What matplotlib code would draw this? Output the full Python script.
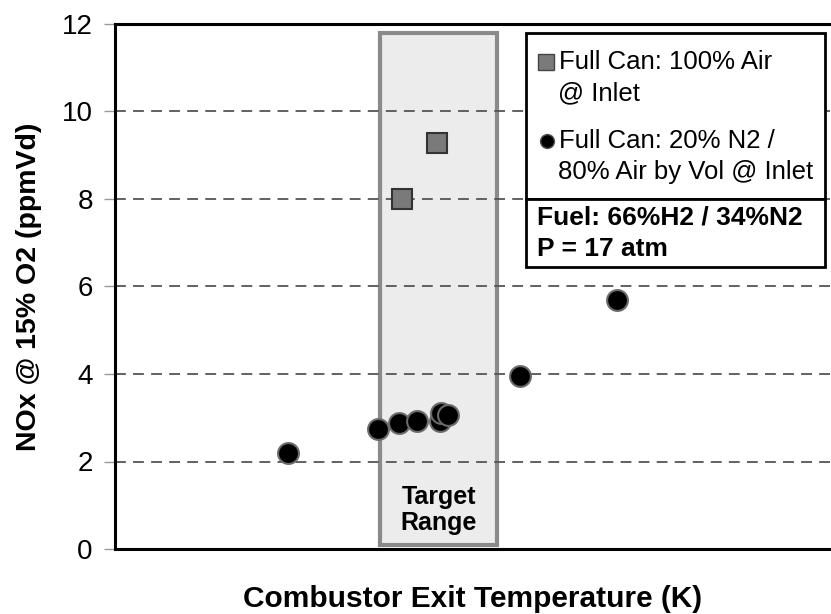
import matplotlib
matplotlib.use("Agg")
import matplotlib.pyplot as plt
from matplotlib.patches import Rectangle

plt.rcParams['font.family'] = ['Liberation Sans', 'DejaVu Sans']

# Relative combustor exit temperature (unlabelled axis) and NOx readings
air_x = [40.1, 45.0]
air_nox = [8.0, 9.28]
n2_x = [24.2, 36.7, 39.7, 42.2, 45.4, 45.5, 46.5, 56.6, 70.1]
n2_nox = [2.2, 2.75, 2.87, 2.93, 2.92, 3.12, 3.07, 3.95, 5.7]
target_lo, target_hi = 37.0, 53.4
y_ticks = [0, 2, 4, 6, 8, 10, 12]

W, H = 831, 614
fig = plt.figure(figsize=(W / 100, H / 100), dpi=100)
ax_l, ax_r, ax_t, ax_b = 115, 831, 24, 549
ax = fig.add_axes([ax_l / W, 1 - ax_b / H, (ax_r - ax_l) / W, (ax_b - ax_t) / H])
ax.set_xlim(0, 100)
ax.set_ylim(0, 12)


def px(x, y):
    """pixel position -> axes fraction"""
    return (x - ax_l) / (ax_r - ax_l), (ax_b - y) / (ax_b - ax_t)


# dashed grid
for v in y_ticks[1:-1]:
    ax.axhline(v, color='#555555', lw=1.3, ls=(0, (6, 4)), zorder=2)

# target range band
ax.add_patch(Rectangle((target_lo, 0.1), target_hi - target_lo, 11.7,
                       facecolor='#ececec', edgecolor='#8a8a8a', lw=3, zorder=1))
ax.text((target_lo + target_hi) / 2, 0.9, 'Target\nRange', ha='center', va='center',
        fontsize=18, fontweight='bold', linespacing=1.1, zorder=3)

ax.plot(air_x, air_nox, ls='none', marker='s', ms=14, mfc='#7a7a7a', mec='#333333',
        mew=1.5, zorder=4)
ax.plot(n2_x, n2_nox, ls='none', marker='o', ms=15, mfc='black', mec='#6a6a6a',
        mew=1.5, zorder=4)

# legend box
lx0, ly0 = px(526, 199)
lx1, ly1 = px(825, 33)
ax.add_patch(Rectangle((lx0, ly0), lx1 - lx0, ly1 - ly0, transform=ax.transAxes,
                       facecolor='white', edgecolor='black', lw=2, zorder=5))
bx0, by0 = px(526, 267)
ax.add_patch(Rectangle((bx0, by0), lx1 - bx0, ly0 - by0, transform=ax.transAxes,
                       facecolor='white', edgecolor='black', lw=2, zorder=5))

mx, my = px(546, 62)
ax.plot([mx], [my], transform=ax.transAxes, marker='s', ms=11, mfc='#7a7a7a',
        mec='#444444', ls='none', zorder=6, clip_on=False)
mx, my = px(547, 141)
ax.plot([mx], [my], transform=ax.transAxes, marker='o', ms=10, mfc='black',
        mec='#555555', ls='none', zorder=6, clip_on=False)

for txt, (x, y), bold in [
    ('Full Can: 100% Air', (559, 62), False),
    ('@ Inlet', (558, 93), False),
    ('Full Can: 20% N2 /', (559, 141), False),
    ('80% Air by Vol @ Inlet', (558, 172), False),
    ('Fuel: 66%H2 / 34%N2', (537, 218), True),
    ('P = 17 atm', (537, 249), True),
]:
    tx, ty = px(x, y)
    ax.text(tx, ty, txt, transform=ax.transAxes, ha='left', va='center',
            fontsize=18.5 if not bold else 19, fontweight='bold' if bold else 'normal',
            zorder=6)

ax.set_yticks(y_ticks)
ax.set_xticks([])
ax.tick_params(axis='y', labelsize=20, length=8, color='#999999', width=1, pad=8)
for s in ('left', 'bottom', 'top'):
    ax.spines[s].set_linewidth(2.2)
    ax.spines[s].set_color('black')
ax.spines['right'].set_visible(False)

ax.set_ylabel('NOx @ 15% O2 (ppmVd)', fontsize=20.5, fontweight='bold', labelpad=14)
ax.set_xlabel('Combustor Exit Temperature (K)', fontsize=21.5, fontweight='bold',
              labelpad=26)

fig.savefig('out.png', dpi=100)
